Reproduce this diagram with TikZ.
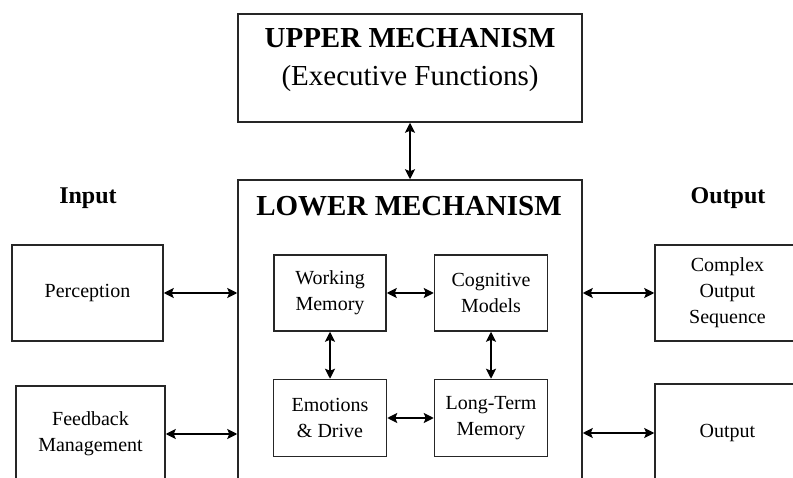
\documentclass[tikz,border=0pt]{standalone}
\usepackage{fontspec}
\setmainfont{Liberation Serif}
\usetikzlibrary{arrows.meta}

\begin{document}
\begin{tikzpicture}[x=1pt, y=-1pt, line width=1.5pt,
    >={Stealth[length=10pt,width=10pt,inset=2pt]},
    box/.style={shape=rectangle, draw=black!85, align=center, inner sep=0pt,
        font=\fontsize{20}{26}\selectfont},
    mechtitle/.style={align=center, font=\fontsize{29}{38}\selectfont},
    heading/.style={font=\fontsize{24}{28}\selectfont\bfseries}]
    \clip (0,0) rectangle (793,478);
    % mechanisms
    \node[box, minimum width=344pt, minimum height=108pt] at (410,68) (upper) {};
    \node[mechtitle] at (410,60) (uppertitle) {\textbf{UPPER MECHANISM}\\(Executive Functions)};
    \node[box, minimum width=344pt, minimum height=380pt] at (410,370) (lower) {};
    \node[mechtitle, font=\fontsize{29}{38}\selectfont\bfseries] at (409,206) (lowertitle) {LOWER MECHANISM};
    % input side
    \node[heading] at (88,198) (input) {Input};
    \node[box, minimum width=151pt, minimum height=96pt] at (87.5,293) (per) {Perception};
    \node[box, minimum width=149pt, minimum height=96pt] at (90.5,434) (feed) {Feedback\\Management};
    % inside the lower mechanism
    \node[box, minimum width=112pt, minimum height=76pt] at (330,293) (wm) {Working\\Memory};
    \node[box, minimum width=113pt, minimum height=76pt] at (491,293) (cm) {Cognitive\\Models};
    \node[box, minimum width=113pt, minimum height=77pt] at (330,418) (emo) {Emotions\\\& Drive};
    \node[box, minimum width=113pt, minimum height=77pt] at (491,418) (ltm) {Long-Term\\Memory};
    % output side
    \node[heading] at (728,198) (output) {Output};
    \node[box, minimum width=145pt, minimum height=96pt] at (727.5,293) (comp) {Complex\\Output\\Sequence};
    \node[box, minimum width=145pt, minimum height=98pt] at (727.5,433) (outp) {Output};
    % connections
    \path [<->] (upper.south) edge (lower.north);
    \path [<->] (per) edge (per -| lower.west);
    \path [<->] (feed) edge (feed -| lower.west);
    \path [<->] (wm) edge (cm);
    \path [<->] (wm) edge (emo);
    \path [<->] (cm) edge (ltm);
    \path [<->] (emo) edge (ltm);
    \path [<->] (lower.east |- comp) edge (comp);
    \path [<->] (lower.east |- outp) edge (outp);
\end{tikzpicture}
\end{document}
